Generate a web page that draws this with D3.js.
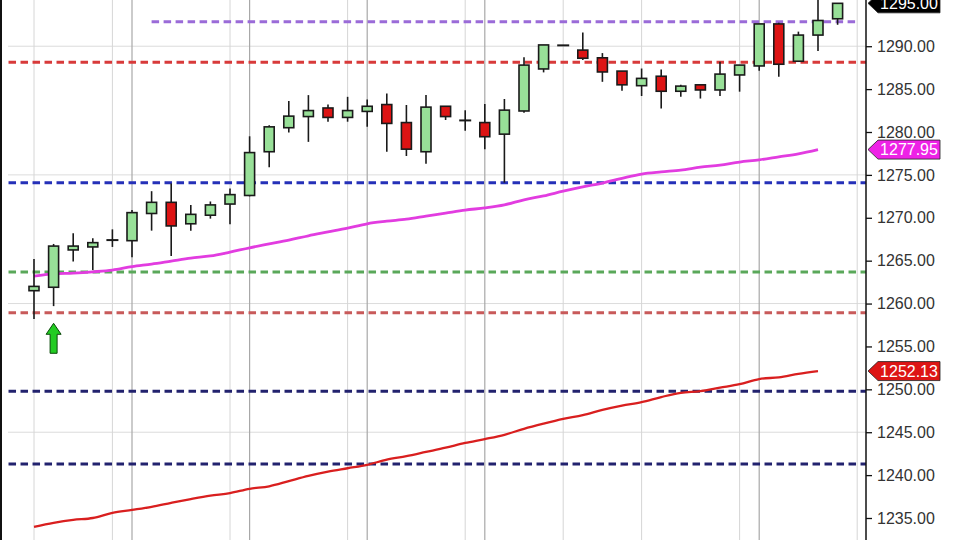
<!DOCTYPE html>
<html><head><meta charset="utf-8">
<script src="https://cdn.jsdelivr.net/npm/d3@7"></script>
<style>html,body{margin:0;padding:0;background:#fff;}svg{display:block;}</style>
</head><body>
<svg id="chart" width="960" height="540"></svg>
<script>
// ---- data ----
const opens  = [1261.5,1261.9,1266.25,1266.6,1267.4,1267.33,1270.5,1271.8,1269.3,1270.3,1271.6,1272.6,1277.7,1280.5,1281.8,1282.8,1281.7,1282.4,1283.2,1281.1,1277.7,1283.0,1281.35,1281.1,1279.75,1282.45,1287.35,1290.1,1289.55,1288.65,1287.1,1285.4,1286.5,1284.75,1285.5,1284.9,1286.65,1287.7,1292.6,1288.25,1291.3,1293.2];
const closes = [1262.0,1266.7,1266.7,1267.1,1267.4,1270.6,1271.8,1269.05,1270.4,1271.5,1272.7,1277.6,1280.6,1281.85,1282.5,1281.7,1282.5,1283.0,1281.0,1278.0,1282.9,1281.8,1281.35,1279.45,1282.55,1287.8,1290.15,1290.1,1288.6,1287.0,1285.5,1286.25,1284.75,1285.35,1284.9,1286.75,1287.8,1292.6,1287.9,1291.3,1293.0,1295.0];
const highs  = [1265.2,1266.95,1268.2,1267.6,1268.65,1270.9,1273.1,1274.0,1271.5,1271.9,1273.4,1279.5,1280.8,1283.6,1284.3,1283.2,1284.1,1283.8,1284.5,1283.15,1284.3,1283.0,1282.55,1283.25,1283.85,1288.7,1290.15,1290.1,1291.6,1289.2,1287.1,1287.4,1287.3,1285.5,1285.5,1288.2,1287.8,1292.6,1292.75,1291.7,1296.5,1295.0];
const lows   = [1258.2,1259.7,1264.9,1263.9,1266.6,1265.4,1268.5,1265.55,1268.5,1269.9,1269.25,1272.5,1275.9,1279.95,1278.85,1281.2,1281.2,1280.6,1277.7,1277.2,1276.3,1281.4,1280.15,1278.0,1274.1,1282.25,1286.95,1290.1,1288.4,1285.85,1284.8,1284.2,1282.75,1284.1,1283.9,1284.2,1284.7,1287.15,1286.45,1288.25,1289.45,1292.5];
const maFast = [1263.2,1263.45,1263.55,1263.7,1263.9,1264.3,1264.6,1264.95,1265.3,1265.55,1266.0,1266.5,1266.95,1267.4,1267.9,1268.35,1268.8,1269.3,1269.6,1269.85,1270.2,1270.55,1270.9,1271.15,1271.5,1272.1,1272.55,1273.1,1273.6,1274.05,1274.6,1275.1,1275.35,1275.55,1275.9,1276.15,1276.5,1276.75,1277.1,1277.45,1277.95];
const maSlow = [1233.96,1234.43,1234.78,1235.0,1235.6,1235.94,1236.3,1236.76,1237.2,1237.6,1237.9,1238.4,1238.7,1239.3,1239.9,1240.4,1240.8,1241.2,1241.8,1242.2,1242.7,1243.2,1243.75,1244.2,1244.7,1245.4,1246.0,1246.55,1247.0,1247.6,1248.1,1248.5,1249.1,1249.6,1249.8,1250.2,1250.6,1251.2,1251.4,1251.8,1252.13];
const levelValues = [1292.86,1288.12,1274.09,1263.68,1258.94,1249.78,1241.3];
const levelColors = ["#9a6bd8","#d83a3a","#2530b8","#5aa85a","#c85a5a","#22226e","#22226e"];
const levelStart  = [6,-1.3,-1.3,-1.3,-1.3,-1.3,-1.3];
const yTicks = [1235,1240,1245,1250,1255,1260,1265,1270,1275,1280,1285,1290];
const gridY = [1245,1260,1275,1290];
const gridXLight = [0,4,10,16,22,27,31,36,42];
const gridXDark = [5,11,17,23,37];
const priceTags = [{v:1295.00,t:"1295.00",c:"#000"},{v:1277.95,t:"1277.95",c:"#ee22e6"},{v:1252.13,t:"1252.13",c:"#dd1515"}];
const arrowIndex = 1, arrowValue = 1257.7;

// ---- scales ----
const svg = d3.select("#chart");
const x = d3.scaleLinear().domain([0, 41]).range([34, 837.6]);
const y = d3.scaleLinear().domain([1235, 1280]).range([518, 132]);
const axisX = 866, leftX = 8;

svg.append("rect").attr("width",960).attr("height",540).attr("fill","#fff");

// grid
const g = svg.append("g");
g.selectAll(".gy").data(gridY).join("line")
  .attr("x1", leftX).attr("x2", axisX).attr("y1", d=>y(d)).attr("y2", d=>y(d))
  .attr("stroke","#dcdcdc").attr("stroke-width",1);
g.selectAll(".gxl").data(gridXLight).join("line")
  .attr("x1", d=>x(d)).attr("x2", d=>x(d)).attr("y1",0).attr("y2",540)
  .attr("stroke","#d6d6d6").attr("stroke-width",1);
g.selectAll(".gxd").data(gridXDark).join("line")
  .attr("x1", d=>x(d)).attr("x2", d=>x(d)).attr("y1",0).attr("y2",540)
  .attr("stroke","#a8a8a8").attr("stroke-width",1.2);

// left border
svg.append("rect").attr("x",0).attr("y",0).attr("width",2).attr("height",540).attr("fill","#111");

// level lines
svg.append("g").selectAll("line").data(levelValues).join("line")
  .attr("x1",(d,i)=>x(levelStart[i])).attr("x2",(d,i)=> i===0 ? 856 : axisX)
  .attr("y1",d=>y(d)).attr("y2",d=>y(d))
  .attr("stroke",(d,i)=>levelColors[i]).attr("stroke-width",3)
  .attr("stroke-dasharray","7.5,4.5");

// moving averages
const line = d3.line().x((d,i)=>x(i)).y(d=>y(d)).curve(d3.curveMonotoneX);
svg.append("path").attr("d", line(maSlow)).attr("fill","none").attr("stroke","#d91f1f").attr("stroke-width",2.3);
svg.append("path").attr("d", line(maFast)).attr("fill","none").attr("stroke","#e23ce0").attr("stroke-width",2.8);

// candles
const bw = 10;
const cg = svg.append("g").selectAll("g").data(opens.map((o,i)=>({i,o,c:closes[i],h:highs[i],l:lows[i]}))).join("g");
cg.append("line").attr("x1",d=>x(d.i)).attr("x2",d=>x(d.i)).attr("y1",d=>y(d.h)).attr("y2",d=>y(d.l))
  .attr("stroke","#1a1a1a").attr("stroke-width",1.6);
cg.filter(d=>Math.abs(d.o-d.c)>0.05).append("rect")
  .attr("x",d=>x(d.i)-bw/2).attr("width",bw)
  .attr("y",d=>y(Math.max(d.o,d.c))).attr("height",d=>Math.max(1,Math.abs(y(d.o)-y(d.c))))
  .attr("fill",d=>d.c>=d.o ? "#98e098" : "#dd1414").attr("stroke","#1a1a1a").attr("stroke-width",1.6);
cg.filter(d=>Math.abs(d.o-d.c)<=0.05).append("line")
  .attr("x1",d=>x(d.i)-bw/2-1).attr("x2",d=>x(d.i)+bw/2+1).attr("y1",d=>y(d.c)).attr("y2",d=>y(d.c))
  .attr("stroke","#1a1a1a").attr("stroke-width",2);

// green arrow
const ax = x(arrowIndex), ay = y(arrowValue);
svg.append("path")
  .attr("d", `M${ax},${ay} L${ax+7.5},${ay+11} L${ax+3.5},${ay+11} L${ax+3.5},${ay+30} L${ax-3.5},${ay+30} L${ax-3.5},${ay+11} L${ax-7.5},${ay+11} Z`)
  .attr("fill","#22cc22").attr("stroke","#0a4a0a").attr("stroke-width",1);

// y axis
svg.append("line").attr("x1",axisX).attr("x2",axisX).attr("y1",0).attr("y2",540).attr("stroke","#111").attr("stroke-width",1.5);
const ag = svg.append("g").attr("transform",`translate(${axisX},0)`)
  .call(d3.axisRight(y).tickValues(yTicks).tickFormat(d3.format(".2f")).tickSize(6).tickPadding(5));
ag.select(".domain").remove();
ag.selectAll(".tick line").attr("stroke","#111").attr("stroke-width",1.3);
ag.selectAll(".tick text").attr("font-family","Liberation Sans, Arial, sans-serif").attr("font-size",16).attr("fill","#333");

// price tags
const tg = svg.append("g").selectAll("g").data(priceTags).join("g").attr("transform",d=>`translate(868,${y(d.v)})`);
tg.append("path").attr("d","M0,0 L10,-9.5 L72,-9.5 L72,9.5 L10,9.5 Z").attr("fill",d=>d.c).attr("stroke","#222").attr("stroke-width",0.8);
tg.append("text").attr("x",41).attr("y",5.5).attr("text-anchor","middle").attr("fill","#fff")
  .attr("font-family","Liberation Sans, Arial, sans-serif").attr("font-size",16).text(d=>d.t);
</script>
</body></html>
